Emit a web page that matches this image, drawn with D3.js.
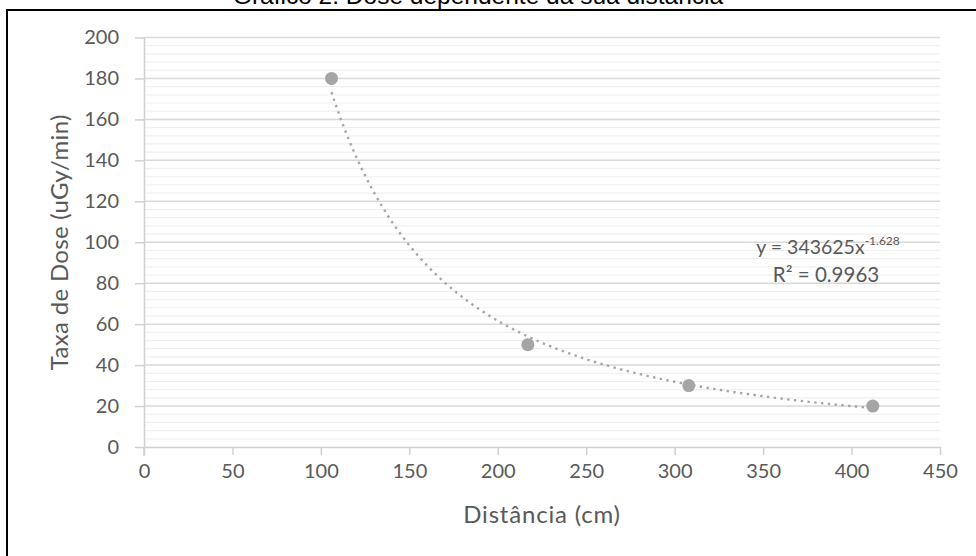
<!DOCTYPE html>
<html><head><meta charset="utf-8">
<script src="https://cdn.jsdelivr.net/npm/d3@7"></script>
<style>html,body{margin:0;padding:0;background:#fff;overflow:hidden}</style>
</head><body><svg id="c" width="976" height="556"></svg>
<script>
const titleText = "Gráfico 2: Dose dependente da sua distância";
const xLabel = "Distância (cm)";
const yLabel = "Taxa de Dose (uGy/min)";
const distances = [106, 217, 308, 412];
const doseRates = [180, 50, 30, 20];
const xTicks = [0, 50, 100, 150, 200, 250, 300, 350, 400, 450];
const yTicks = [0, 20, 40, 60, 80, 100, 120, 140, 160, 180, 200];
const fitCoef = 343625;
const fitExp = -1.628;
const fitR2 = "0.9963";

(function () {
const svg = d3.select("#c");
const W = 976, H = 556;
const pL = 144, pR = 940, pT = 37.5, pB = 447;
const x = d3.scaleLinear().domain([0, 450]).range([pL, pR]);
const y = d3.scaleLinear().domain([0, 200]).range([pB, pT]);
const font = "Lato, 'Open Sans', sans-serif";
const txt = "#595959";

// border
svg.append("line").attr("x1", 7).attr("x2", W).attr("y1", 10).attr("y2", 10).attr("stroke", "#000").attr("stroke-width", 2);
svg.append("line").attr("x1", 7).attr("x2", 7).attr("y1", 9).attr("y2", H).attr("stroke", "#000").attr("stroke-width", 2);

// title (clipped at top, as in the source image)
svg.append("text").attr("x", 478).attr("y", 4).attr("text-anchor", "middle")
  .attr("font-family", "'Liberation Sans', Arial, sans-serif").attr("font-size", 24.5).attr("fill", "#000").text(titleText);

// minor grid
const minor = d3.range(0, 201, 4).filter(v => v % 20 !== 0);
svg.append("g").selectAll("line").data(minor).join("line")
  .attr("x1", pL).attr("x2", pR).attr("y1", d => y(d)).attr("y2", d => y(d))
  .attr("stroke", "#efefef").attr("stroke-width", 1.2);
// major grid
svg.append("g").selectAll("line").data(yTicks.filter(v => v > 0)).join("line")
  .attr("x1", pL).attr("x2", pR).attr("y1", d => y(d)).attr("y2", d => y(d))
  .attr("stroke", "#d9d9d9").attr("stroke-width", 1.5);

// y axis
const yAxis = svg.append("g").attr("transform", `translate(${pL},0)`)
  .call(d3.axisLeft(y).tickValues(yTicks).tickSize(9).tickPadding(16).tickSizeOuter(0));
yAxis.select(".domain").attr("stroke", "#d0d0d0").attr("stroke-width", 1.5);
yAxis.selectAll(".tick line").attr("stroke", "#d0d0d0").attr("stroke-width", 1.5);
yAxis.selectAll(".tick text").attr("font-family", font).attr("font-size", 20).attr("fill", txt);
svg.append("line").attr("x1", pL).attr("x2", pL).attr("y1", pB).attr("y2", pB + 9).attr("stroke", "#d0d0d0").attr("stroke-width", 1.5);

// x axis
const xAxis = svg.append("g").attr("transform", `translate(0,${pB})`)
  .call(d3.axisBottom(x).tickValues(xTicks).tickSize(8).tickPadding(9).tickSizeOuter(0));
xAxis.select(".domain").attr("stroke", "#d0d0d0").attr("stroke-width", 1.5);
xAxis.selectAll(".tick line").attr("stroke", "#d0d0d0").attr("stroke-width", 1.5);
xAxis.selectAll(".tick text").attr("font-family", font).attr("font-size", 20).attr("fill", txt);

// axis titles
svg.append("text").attr("transform", `translate(68,${(pT + pB) / 2}) rotate(-90)`)
  .attr("text-anchor", "middle").attr("font-family", font).attr("font-size", 24).attr("fill", txt)
  .attr("letter-spacing", 0.3).text(yLabel);
svg.append("text").attr("x", (pL + pR) / 2).attr("y", 523)
  .attr("text-anchor", "middle").attr("font-family", font).attr("font-size", 24).attr("fill", txt)
  .attr("letter-spacing", 0.8).text(xLabel);

// trendline from displayed fit equation
const xs = d3.range(d3.min(distances), d3.max(distances) + 0.01, 1);
const line = d3.line().x(d => x(d)).y(d => y(fitCoef * Math.pow(d, fitExp)));
svg.append("path").datum(xs).attr("d", line).attr("fill", "none")
  .attr("stroke", "#a6a6a6").attr("stroke-width", 2.4).attr("stroke-dasharray", "2.4,4.4");

// points
svg.append("g").selectAll("circle").data(distances).join("circle")
  .attr("cx", d => x(d)).attr("cy", (d, i) => y(doseRates[i])).attr("r", 6.5).attr("fill", "#a5a5a5");

// equation label
const eq = svg.append("text").attr("x", 828).attr("y", 254).attr("text-anchor", "middle")
  .attr("font-family", font).attr("font-size", 19.5).attr("fill", txt);
eq.append("tspan").text(`y = ${fitCoef}x`);
eq.append("tspan").attr("dy", -9).attr("font-size", 12).text(String(fitExp));
svg.append("text").attr("x", 826).attr("y", 282).attr("text-anchor", "middle")
  .attr("font-family", font).attr("font-size", 20.5).attr("fill", txt).text(`R² = ${fitR2}`);
})();
</script></body></html>
